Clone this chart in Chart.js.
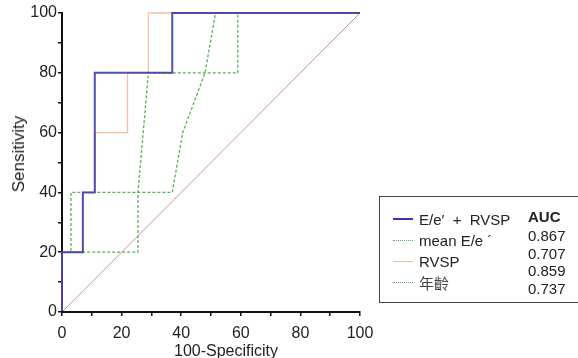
<!DOCTYPE html>
<html>
<head>
<meta charset="utf-8">
<script src="https://cdn.jsdelivr.net/npm/chart.js@4.4.1/dist/chart.umd.min.js"></script>
<style>
    html, body { margin: 0; padding: 0; background: #fff; }
    #wrap { position: relative; width: 578px; height: 358px; overflow: hidden; font-family: "Liberation Sans", Arial, sans-serif; color: #222; }
    #roc { position: absolute; left: 0; top: 0; }
    .axis-title { position: absolute; font-size: 16px; white-space: nowrap; }
    #ytitle { left: 19px; top: 154px; transform: translate(-50%, -50%) rotate(-90deg); font-size: 17px; }
    #xtitle { left: 226px; top: 351px; transform: translate(-50%, -50%); }
    #legend { position: absolute; left: 379px; top: 196px; width: 220px; height: 107px; border: 1.5px solid #444; box-sizing: border-box; font-size: 15px; }
    .row { position: absolute; left: 13px; height: 20px; display: flex; align-items: center; white-space: nowrap; }
    .swatch { width: 20px; margin-right: 6px; }
    .auc { position: absolute; left: 148px; font-size: 15px; }
</style>
</head>
<body>
<div id="wrap">
    <canvas id="roc" width="578" height="358"></canvas>
    <div class="axis-title" id="ytitle">Sensitivity</div>
    <div class="axis-title" id="xtitle">100-Specificity</div>
    <div id="legend"></div>
</div>
<script>
// ROC curves (x = 100-Specificity, y = Sensitivity)
const comboX = [0, 0, 7, 7, 11, 11, 37, 37, 100];
const comboY = [0, 20, 20, 40, 40, 80, 80, 100, 100];

const meanEeX = [0, 0, 25.5, 25.5, 29, 59, 59, 100];
const meanEeY = [0, 20, 20, 40, 80, 80, 100, 100];

const rvspX = [0, 0, 7, 7, 11, 11, 22, 22, 29, 29, 100];
const rvspY = [0, 20, 20, 40, 40, 60, 60, 80, 80, 100, 100];

const ageX = [0, 0, 3, 3, 37, 40.5, 48, 51.5, 100];
const ageY = [0, 20, 20, 40, 40, 60, 80, 100, 100];

const refX = [0, 100];
const refY = [0, 100];

const seriesNames = ["E/e\u2032 \u00a0+ \u00a0RVSP", "mean E/e \u00b4", "RVSP", "年齡"];
const aucValues = ["0.867", "0.707", "0.859", "0.737"];

const toPoints = (xs, ys) => xs.map((x, i) => ({ x: x, y: ys[i] }));

function line(label, xs, ys, color, width, dash, order) {
    return {
        label: label,
        data: toPoints(xs, ys),
        showLine: true,
        borderColor: color,
        borderWidth: width,
        borderDash: dash,
        pointRadius: 0,
        fill: false,
        tension: 0,
        clip: 4,
        order: order
    };
}

const tickEvery20 = v => (v % 20 === 0 ? v : '');

new Chart(document.getElementById('roc'), {
    type: 'scatter',
    data: {
        datasets: [
            line('reference', refX, refY, '#d68e8e', 1, [], 5),
            line(seriesNames[1], meanEeX, meanEeY, '#55b055', 1.3, [3, 2], 3),
            line(seriesNames[3], ageX, ageY, '#55b055', 1.3, [3, 2], 2),
            line(seriesNames[2], rvspX, rvspY, '#f9bfa0', 1.3, [], 1),
            line(seriesNames[0], comboX, comboY, 'rgba(50,50,168,0.85)', 2, [], 0)
        ]
    },
    options: {
        responsive: false,
        animation: false,
        layout: { padding: { left: 0, right: 218, top: 13, bottom: 0 } },
        plugins: { legend: { display: false }, tooltip: { enabled: false } },
        scales: {
            x: {
                type: 'linear',
                min: 0, max: 100,
                afterFit: s => { s.height = 46; },
                border: { color: '#111', width: 2, z: 1 },
                grid: { drawOnChartArea: false, drawTicks: true, tickLength: 4, color: '#111', lineWidth: 1.5 },
                ticks: {
                    stepSize: 10, autoSkip: false, maxRotation: 0, padding: 8,
                    color: '#222', font: { family: "'Liberation Sans', Arial", size: 16 },
                    callback: tickEvery20
                }
            },
            y: {
                type: 'linear',
                min: 0, max: 100,
                afterFit: s => { s.width = 62; },
                border: { color: '#111', width: 2 },
                grid: { drawOnChartArea: false, drawTicks: true, tickLength: 4, color: '#111', lineWidth: 1.5 },
                ticks: {
                    stepSize: 10, autoSkip: false, padding: 1,
                    color: '#222', font: { family: "'Liberation Sans', Arial", size: 16 },
                    callback: tickEvery20
                }
            }
        }
    }
});

// legend box with AUC column
const swatches = [
    'border-top: 2px solid #3737aa',
    'border-top: 1px dotted #55b055',
    'border-top: 1px solid #f7b896',
    'border-top: 1px dotted #55b055'
];
const rowTops = [12, 33, 54, 75];
const aucTops = [30, 48, 65, 83];
let html = '<div class="auc" style="top:11px;font-weight:bold">AUC</div>';
seriesNames.forEach((name, i) => {
    const font = i === 3 ? "font-family:'Noto Sans CJK TC';color:#444;" : '';
    html += `<div class="row" style="top:${rowTops[i]}px"><span class="swatch" style="${swatches[i]}"></span><span style="${font}">${name}</span></div>`;
    html += `<div class="auc" style="top:${aucTops[i]}px">${aucValues[i]}</div>`;
});
document.getElementById('legend').innerHTML = html;
</script>
</body>
</html>
